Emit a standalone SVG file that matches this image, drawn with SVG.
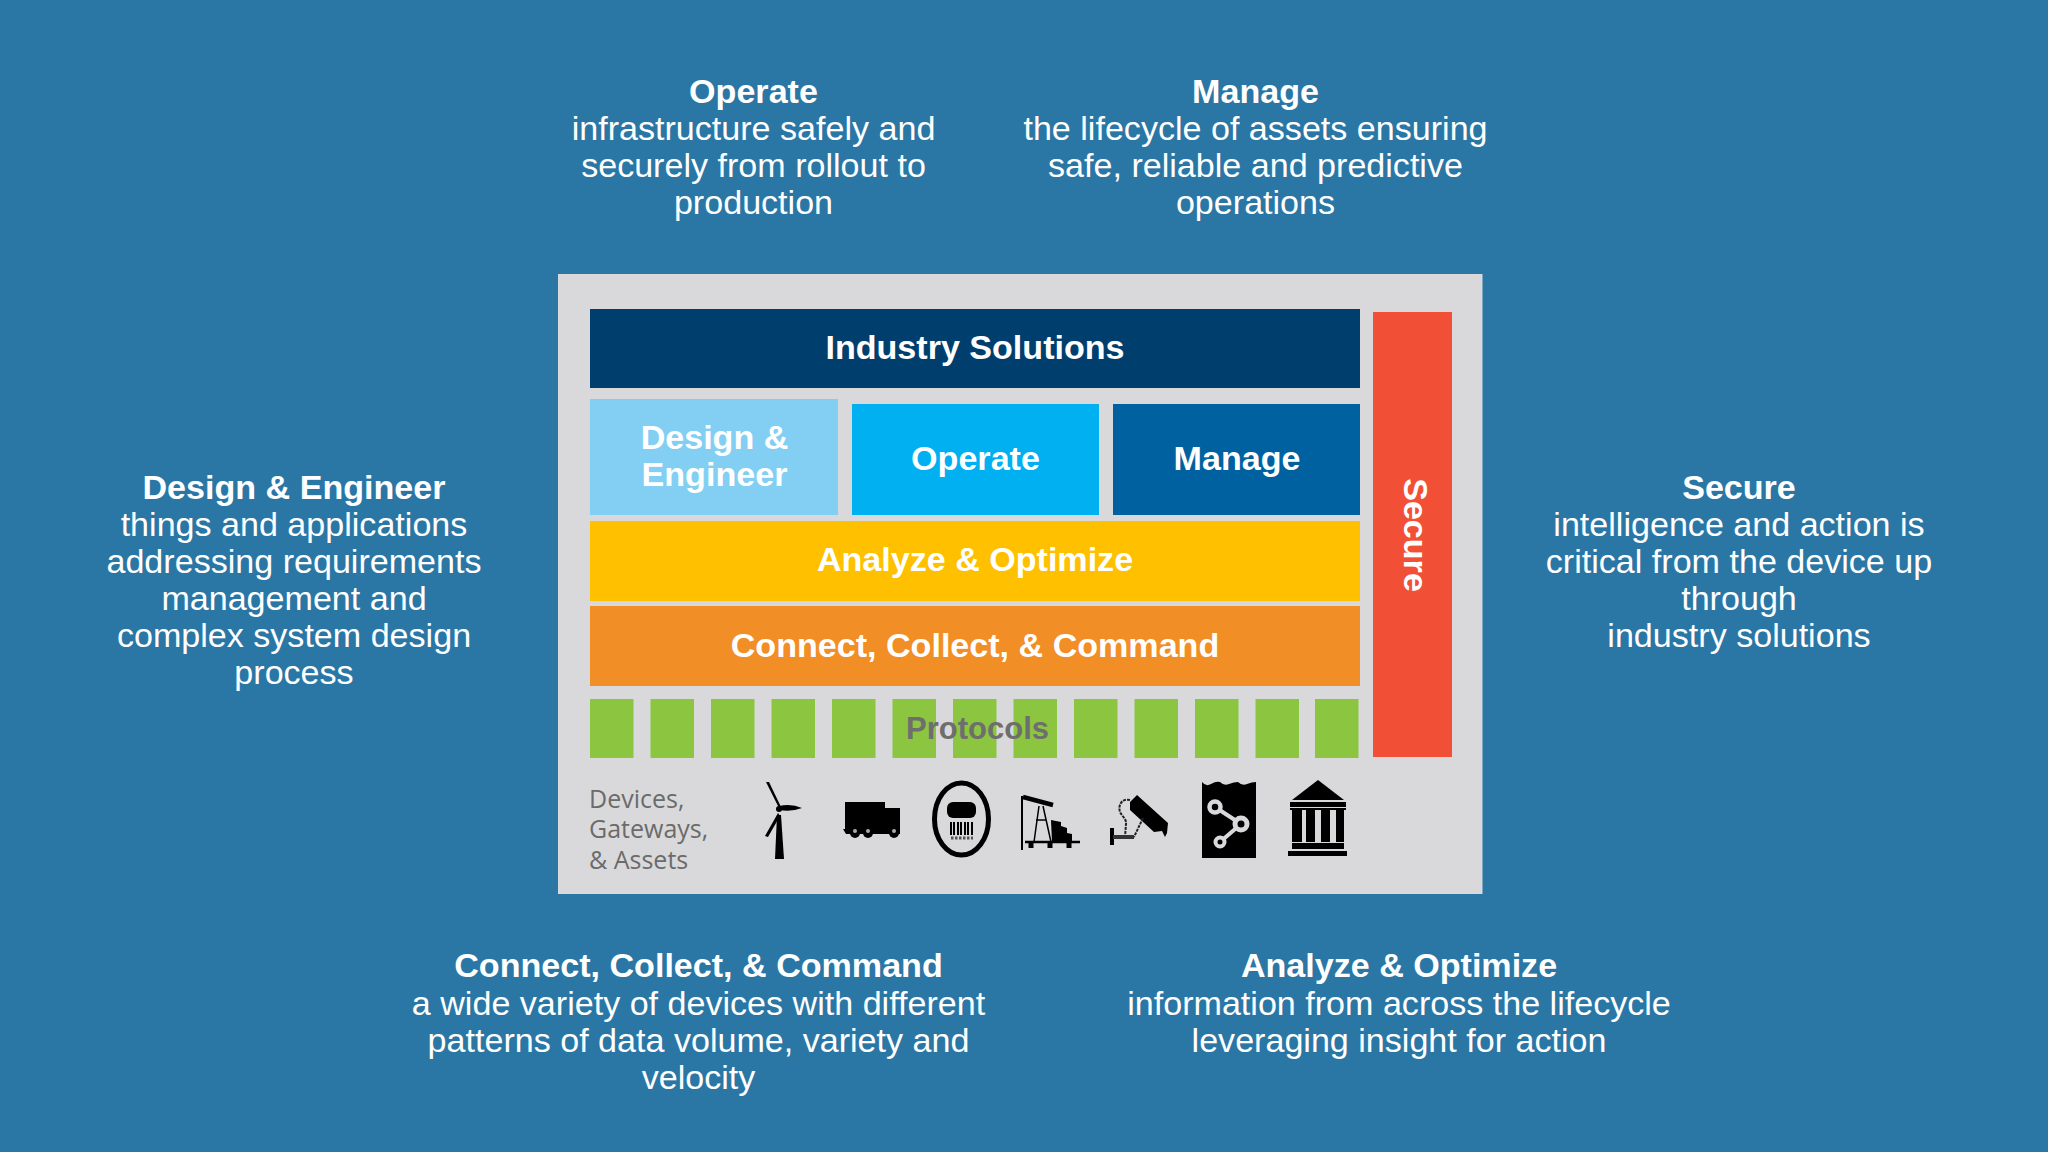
<svg xmlns="http://www.w3.org/2000/svg" width="2048" height="1152" viewBox="0 0 2048 1152">
<style>
text{font-family:"Liberation Sans",Arial,sans-serif;fill:#fff;text-anchor:middle}
.b{font-size:34.1px}
.h{font-size:34.1px;font-weight:bold}
.t{font-size:34.1px;font-weight:bold}
.g{fill:#8cc540}
.k{fill:#000}
.d{font-family:"Open Sans",sans-serif;font-size:25px;fill:#6b6b6b;text-anchor:start}
</style>
<rect width="2048" height="1152" fill="#2a77a6"/>
<g id="note-operate"><text x="753.500" y="103" class="h">Operate</text><text x="753.500" y="140" class="b">infrastructure safely and</text><text x="753.500" y="177" class="b">securely from rollout to</text><text x="753.500" y="214" class="b">production</text></g>
<g id="note-manage"><text x="1255.500" y="103" class="h">Manage</text><text x="1255.500" y="140" class="b">the lifecycle of assets ensuring</text><text x="1255.500" y="177" class="b">safe, reliable and predictive</text><text x="1255.500" y="214" class="b">operations</text></g>
<g id="note-design"><text x="294" y="499" class="h">Design &amp; Engineer</text><text x="294" y="536" class="b">things and applications</text><text x="294" y="573" class="b">addressing requirements</text><text x="294" y="610" class="b">management and</text><text x="294" y="647" class="b">complex system design</text><text x="294" y="684" class="b">process</text></g>
<g id="note-secure"><text x="1739" y="499" class="h">Secure</text><text x="1739" y="536" class="b">intelligence and action is</text><text x="1739" y="573" class="b">critical from the device up</text><text x="1739" y="610" class="b">through</text><text x="1739" y="647" class="b">industry solutions</text></g>
<g id="note-connect"><text x="698.500" y="977" class="h">Connect, Collect, &amp; Command</text><text x="698.500" y="1014.500" class="b">a wide variety of devices with different</text><text x="698.500" y="1051.500" class="b">patterns of data volume, variety and</text><text x="698.500" y="1088.500" class="b">velocity</text></g>
<g id="note-analyze"><text x="1399" y="977" class="h">Analyze &amp; Optimize</text><text x="1399" y="1014.500" class="b">information from across the lifecycle</text><text x="1399" y="1051.500" class="b">leveraging insight for action</text></g>
<rect id="panel" x="558" y="274" width="924.500" height="620" fill="#d9d9db"/>
<g id="industry"><rect x="590" y="309" width="770" height="79" fill="#003f6d"/><text x="975" y="359" class="t">Industry Solutions</text></g>
<g id="design"><rect x="590" y="399" width="248" height="116" fill="#83cff4"/><text x="714.500" y="449" class="t">Design &amp;</text><text x="714.500" y="486" class="t">Engineer</text></g>
<g id="operate"><rect x="852" y="404" width="247" height="111" fill="#00b0f0"/><text x="975.500" y="470" class="t">Operate</text></g>
<g id="manage"><rect x="1113" y="404" width="247" height="111" fill="#0061a0"/><text x="1237" y="470" class="t">Manage</text></g>
<g id="analyze"><rect x="590" y="521" width="770" height="80" fill="#ffc000"/><text x="975" y="571" class="t">Analyze &amp; Optimize</text></g>
<g id="connect"><rect x="590" y="606" width="770" height="80" fill="#f28e26"/><text x="975" y="657" class="t">Connect, Collect, &amp; Command</text></g>
<g id="protocols">
<rect class="g" x="590" y="699" width="43.500" height="59"/><rect class="g" x="650.500" y="699" width="43.500" height="59"/><rect class="g" x="711" y="699" width="43.500" height="59"/><rect class="g" x="771.500" y="699" width="43.500" height="59"/><rect class="g" x="832" y="699" width="43.500" height="59"/><rect class="g" x="892.500" y="699" width="43.500" height="59"/><rect class="g" x="953" y="699" width="43.500" height="59"/><rect class="g" x="1013.500" y="699" width="43.500" height="59"/><rect class="g" x="1074" y="699" width="43.500" height="59"/><rect class="g" x="1134.500" y="699" width="43.500" height="59"/><rect class="g" x="1195" y="699" width="43.500" height="59"/><rect class="g" x="1255.500" y="699" width="43.500" height="59"/><rect class="g" x="1315" y="699" width="43.500" height="59"/>
<text x="977.500" y="739" class="t" style="font-size:31px;fill:#6e6e6e">Protocols</text></g>
<g id="secure"><rect x="1373" y="312" width="79" height="445" fill="#f15036"/><text transform="translate(1404 535) rotate(90)" x="0" y="0" class="t">Secure</text></g>
<g id="devices-label"><text x="589" y="808" class="d">Devices,</text><text x="589" y="838" class="d">Gateways,</text><text x="589" y="869" class="d">&amp; Assets</text></g>
<g id="icon-turbine" class="k"><path d="M777 815h4l3 44h-9z"/><path d="M778 806l-12-24 3 0 12 25z"/><path d="M779 806q12-3 23 2q-10 4-23 2z"/><path d="M778 813l-13 23 3 1 12-21z"/><circle cx="779" cy="809" r="3"/></g>
<g id="icon-truck" class="k"><path d="M845 802h40v6h15v26h-54l-3-5h2z"/><circle cx="855" cy="833" r="5"/><circle cx="868" cy="833" r="5"/><circle cx="894" cy="833" r="5"/><circle cx="855" cy="831" r="2" fill="#aaa"/><circle cx="868" cy="831" r="2" fill="#aaa"/><circle cx="894" cy="831" r="2" fill="#aaa"/></g>
<g id="icon-meter"><ellipse cx="961.500" cy="819" rx="27" ry="36" fill="none" stroke="#000" stroke-width="5"/><rect x="947" y="802" width="29" height="16" rx="6"/><path d="M951 822v13M954 822v13M958 822v13M961 822v13M965 822v13M968 822v13M972 822v13" stroke="#000" stroke-width="2"/><path d="M951 838h22" stroke="#555" stroke-width="3" stroke-dasharray="2.500 1.500"/></g>
<g id="icon-pumpjack" fill="none" stroke="#000" stroke-width="1.500"><path d="M1022 850v-54" stroke-width="2"/><path d="M1023 797l30 8" stroke-width="4.500"/><path d="M1025 842h55" stroke-width="2.500"/><path d="M1039 806l-5 36M1043 806l8 36M1036 820h10"/><path d="M1051 820l10 2v4l6 2v5l5 1v8h-20z" fill="#000" stroke="none"/><path d="M1031 842v6M1050 842v6M1069 842v6" stroke-width="5"/></g>
<g id="icon-camera"><path d="M1137 795l21 19 10 9-1 10-2 4-3-6-8 1-24-22 0-8z"/><path d="M1130 800c-9-2-12 6-10 12 2 4 7 8 6 12l-1 13M1143 818l-9 19" fill="none" stroke="#222" stroke-width="2" stroke-dasharray="3 1"/><path d="M1112 828v17" stroke="#000" stroke-width="4"/><path d="M1113 837h21" stroke="#333" stroke-width="4"/></g>
<g id="icon-doc"><path d="M1202 782q4 5 9 2t9-2q4 4 9 2t9-2q4 4 9 2t9-2v76h-54z"/><path d="M1215 807l26 17-21 18" fill="none" stroke="#d9d9db" stroke-width="4"/><circle cx="1215" cy="807" r="5.500" stroke="#d9d9db" stroke-width="4.500"/><circle cx="1241" cy="824" r="6" stroke="#d9d9db" stroke-width="5"/><circle cx="1220" cy="842" r="4.500" stroke="#d9d9db" stroke-width="4"/></g>
<g id="icon-bank"><path d="M1318 780l26 20h-52z"/><rect x="1290" y="802" width="56" height="5"/><rect x="1290" y="808" width="56" height="2"/><rect x="1292" y="810" width="10" height="32"/><rect x="1306" y="810" width="9" height="32"/><rect x="1321" y="810" width="9" height="32"/><rect x="1336" y="810" width="8" height="32"/><rect x="1292" y="843" width="52" height="6"/><rect x="1288" y="851" width="59" height="5"/></g>
</svg>
